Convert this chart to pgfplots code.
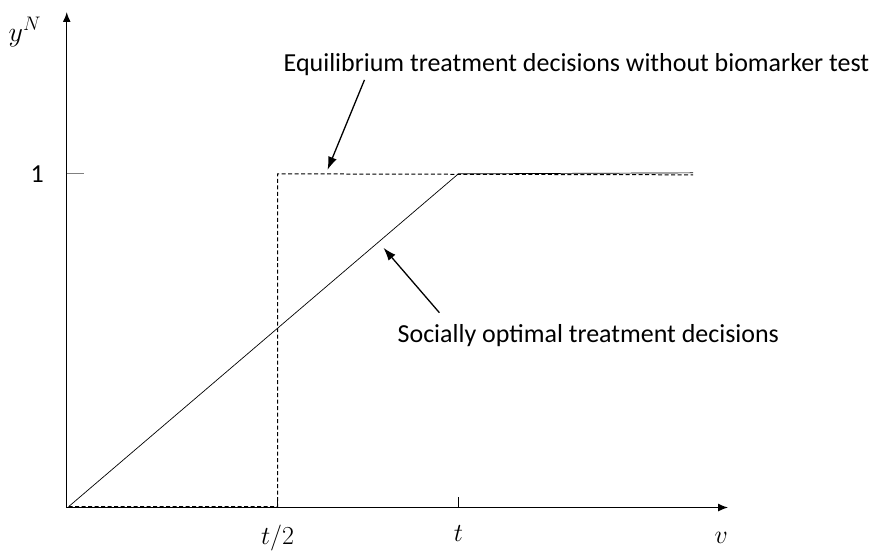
\documentclass[border=0pt]{standalone}
\usepackage{fix-cm}
\usepackage{pgfplots}
\pgfplotsset{compat=1.18}
\usetikzlibrary{arrows.meta}
\usepackage{fontspec}
\setmainfont{Carlito}
\begin{document}
\fontsize{26bp}{30bp}\selectfont
\begin{tikzpicture}
\begin{axis}[
  x=1bp, y=1bp,
  scale only axis,
  xmin=0, xmax=662, ymin=0, ymax=496,
  axis lines=left,
  axis line style={line width=1.5bp, -{Latex[length=10bp,width=8bp]}},
  clip=false,
  xtick={211,392}, xticklabels={$t/2$,$t$},
  ytick={334}, yticklabels={1},
  tick align=inside,
  major tick length=11bp,
  x tick style={black, line width=0.6bp},
  y tick style={draw=none},
  xticklabel style={yshift=-9bp},
  yticklabel style={xshift=-14bp},
]
\path (axis cs:-66,-38) rectangle (axis cs:806,508);
\draw[gray, line width=1bp] (axis cs:0,334) -- (axis cs:17,334);
\addplot[black, line width=0.7bp] coordinates {(2,1) (392,334) (627,335)};
\addplot[black, line width=1bp, dash pattern=on 4bp off 2.5bp] coordinates {(2,1) (211,1) (211,334) (627,333)};
\node[anchor=base west, inner sep=0] at (axis cs:217,436) {Equilibrium treatment decisions without biomarker test};
\node[anchor=base west, inner sep=0] at (axis cs:331,165) {Socially optimal treatment decisions};
\draw[line width=1.3bp, -{Latex[length=13bp,width=9bp]}] (axis cs:298,428) -- (axis cs:261,338);
\draw[line width=1.3bp, -{Latex[length=13bp,width=9bp]}] (axis cs:373,195) -- (axis cs:317,260);
\node at (axis cs:655,-30) {$v$};
\node[font=\fontsize{28bp}{32bp}\selectfont] at (axis cs:-42,476) {$y^{N}$};
\end{axis}
\end{tikzpicture}
\end{document}
